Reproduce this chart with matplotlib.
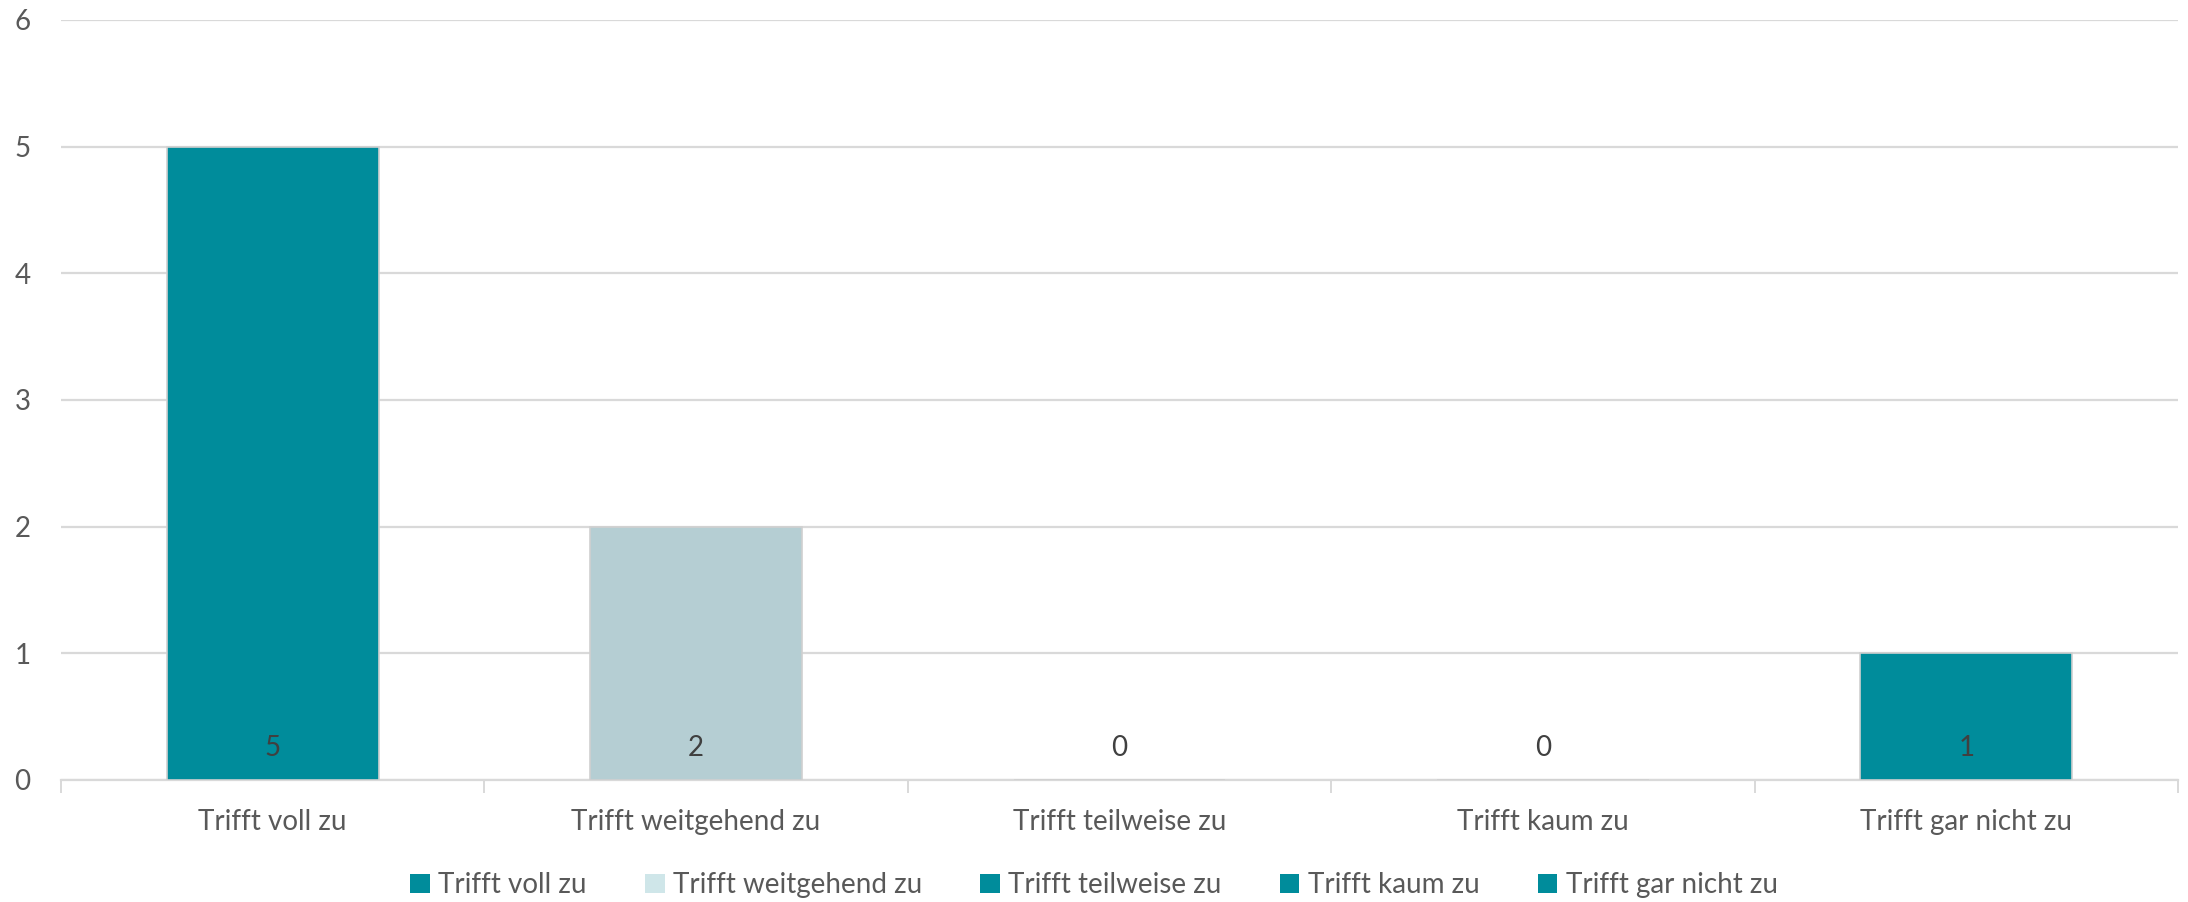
import numpy as np
import matplotlib.pyplot as plt
from matplotlib.patches import Patch
from matplotlib.ticker import FixedLocator

plt.rcParams['font.family'] = ['Lato', 'DejaVu Sans']

# ------------------------------------------------------------
# Data
# ------------------------------------------------------------
categories = ["Trifft voll zu", "Trifft weitgehend zu", "Trifft teilweise zu",
              "Trifft kaum zu", "Trifft gar nicht zu"]
counts = [5, 2, 0, 0, 1]
bar_colors = ["#008C9B", "#B5CED3", "#008C9B", "#008C9B", "#008C9B"]
legend_colors = ["#008C9B", "#CFE6E9", "#008C9B", "#008C9B", "#008C9B"]
y_ticks = [0, 1, 2, 3, 4, 5, 6]

# ------------------------------------------------------------
# Figure
# ------------------------------------------------------------
fig = plt.figure(figsize=(21.88, 9.02), dpi=100)
ax = fig.add_axes([61 / 2188, 1 - 780 / 902, (2178 - 61) / 2188, 760 / 902])

x = np.arange(len(categories))
bars = ax.bar(x, counts, width=0.5, color=bar_colors, zorder=3,
              edgecolor="#D0D0D0", linewidth=1.2)

# data labels sit near the bottom of each bar
for xi, v in zip(x, counts):
    ax.text(xi, 0.25, str(v), ha="center", va="center", fontsize=20,
            color="#404040", zorder=4)

ax.set_xlim(-0.5, len(categories) - 0.5)
ax.set_ylim(0, 6)
ax.set_yticks(y_ticks)
ax.grid(axis="y", color="#D9D9D9", linewidth=1.6, zorder=0)
ax.set_axisbelow(True)

ax.set_xticks(x)
ax.set_xticklabels(categories)
ax.xaxis.set_minor_locator(FixedLocator(np.arange(len(categories) + 1) - 0.5))
ax.tick_params(axis="x", which="major", length=0, pad=21, labelsize=20,
               labelcolor="#595959")
ax.tick_params(axis="x", which="minor", length=9, width=1.4, color="#D9D9D9")
ax.tick_params(axis="y", length=0, pad=22, labelsize=20, labelcolor="#595959")

for s in ["top", "right", "left"]:
    ax.spines[s].set_visible(False)
ax.spines["bottom"].set_color("#D9D9D9")
ax.spines["bottom"].set_linewidth(1.6)

# ------------------------------------------------------------
# Legend
# ------------------------------------------------------------
handles = [Patch(facecolor=c, edgecolor="none") for c in legend_colors]
fig.legend(handles, categories, loc="center", bbox_to_anchor=(0.5, 1 - 885 / 902),
           ncol=5, frameon=False, fontsize=20, labelcolor="#595959",
           handlelength=0.7, handleheight=0.7, handletextpad=0.3,
           columnspacing=2.1)

fig.savefig("out.png", dpi=100)
